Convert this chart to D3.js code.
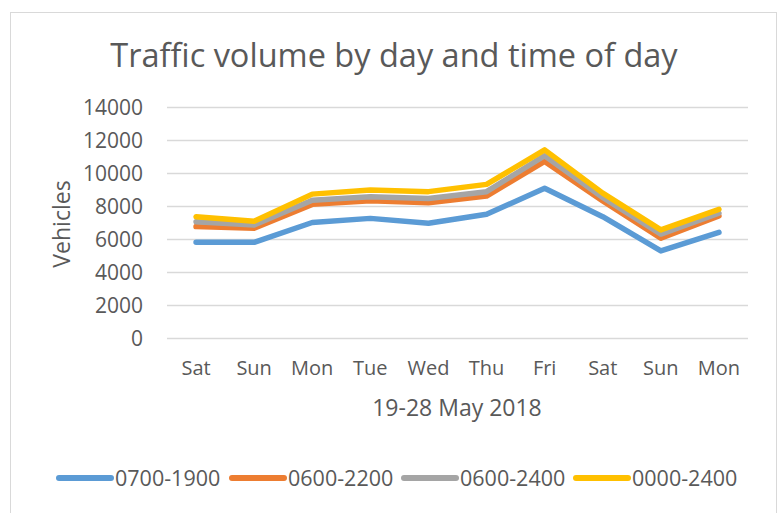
<!DOCTYPE html>
<html>
<head>
<meta charset="utf-8">
<script src="https://cdn.jsdelivr.net/npm/d3@7"></script>
<style>
  body { margin: 0; background: #fff; }
  svg { display: block; font-family: "Open Sans", sans-serif; }
</style>
</head>
<body>
<svg width="779" height="513"></svg>
<script>
const days = ["Sat", "Sun", "Mon", "Tue", "Wed", "Thu", "Fri", "Sat", "Sun", "Mon"];
const yTicks = [0, 2000, 4000, 6000, 8000, 10000, 12000, 14000];

const s0700_1900 = [5800, 5800, 7000, 7250, 6950, 7500, 9070, 7350, 5280, 6400];
const s0600_2200 = [6750, 6650, 8100, 8320, 8200, 8600, 10700, 8300, 6050, 7400];
const s0600_2400 = [7050, 6850, 8350, 8560, 8460, 8870, 11050, 8520, 6300, 7560];
const s0000_2400 = [7350, 7080, 8720, 8970, 8870, 9310, 11400, 8780, 6550, 7800];

const seriesNames = ["0700-1900", "0600-2200", "0600-2400", "0000-2400"];
const seriesColors = ["#5b9bd5", "#ed7d31", "#a5a5a5", "#ffc000"];
const seriesValues = [s0700_1900, s0600_2200, s0600_2400, s0000_2400];

const svg = d3.select("svg");
const textColor = "#595959";

// chart frame
svg.append("rect")
  .attr("x", 10.5).attr("y", 12.5)
  .attr("width", 766).attr("height", 520)
  .attr("fill", "#fff")
  .attr("stroke", "#d9d9d9");

const plotLeft = 167, plotRight = 748, plotTop = 107, plotBottom = 338;

const x = d3.scalePoint()
  .domain(d3.range(days.length))
  .range([plotLeft, plotRight])
  .padding(0.5);

const y = d3.scaleLinear()
  .domain([0, 14000])
  .range([plotBottom, plotTop]);

// gridlines
svg.append("g")
  .selectAll("line")
  .data(yTicks)
  .enter()
  .append("line")
  .attr("x1", plotLeft).attr("x2", plotRight)
  .attr("y1", d => Math.round(y(d)) + 0.5)
  .attr("y2", d => Math.round(y(d)) + 0.5)
  .attr("stroke", "#d9d9d9")
  .attr("stroke-width", 1.3);

// y tick labels
svg.append("g")
  .selectAll("text")
  .data(yTicks)
  .enter()
  .append("text")
  .attr("x", 143)
  .attr("y", d => y(d))
  .attr("dy", "0.36em")
  .attr("text-anchor", "end")
  .attr("fill", textColor)
  .style("font-size", "21px")
  .text(d => d);

// x tick labels
svg.append("g")
  .selectAll("text")
  .data(days)
  .enter()
  .append("text")
  .attr("x", (d, i) => x(i))
  .attr("y", 368)
  .attr("dy", "0.36em")
  .attr("text-anchor", "middle")
  .attr("fill", textColor)
  .style("font-size", "20px")
  .text(d => d);

// lines
const line = d3.line()
  .x((d, i) => x(i))
  .y(d => y(d));

svg.append("g")
  .selectAll("path")
  .data(seriesValues)
  .enter()
  .append("path")
  .attr("d", d => line(d))
  .attr("fill", "none")
  .attr("stroke", (d, i) => seriesColors[i])
  .attr("stroke-width", 5.5)
  .attr("stroke-linejoin", "round")
  .attr("stroke-linecap", "round");

// title
svg.append("text")
  .attr("x", 394)
  .attr("y", 67)
  .attr("text-anchor", "middle")
  .attr("fill", textColor)
  .style("font-size", "32.5px")
  .text("Traffic volume by day and time of day");

// axis titles
svg.append("text")
  .attr("x", 457)
  .attr("y", 408)
  .attr("dy", "0.36em")
  .attr("text-anchor", "middle")
  .attr("fill", textColor)
  .style("font-size", "23px")
  .text("19-28 May 2018");

svg.append("text")
  .attr("transform", "translate(62,224) rotate(-90)")
  .attr("dy", "0.36em")
  .attr("text-anchor", "middle")
  .attr("fill", textColor)
  .style("font-size", "23px")
  .text("Vehicles");

// legend
const legendX = [57, 230, 402, 574];
const legend = svg.append("g")
  .selectAll("g")
  .data(seriesNames)
  .enter()
  .append("g")
  .attr("transform", (d, i) => "translate(" + legendX[i] + ",478)");

legend.append("line")
  .attr("x1", 2).attr("x2", 54)
  .attr("stroke", (d, i) => seriesColors[i])
  .attr("stroke-width", 6)
  .attr("stroke-linecap", "round");

legend.append("text")
  .attr("x", 58)
  .attr("dy", "0.36em")
  .attr("fill", textColor)
  .style("font-size", "21.5px")
  .text(d => d);
</script>
</body>
</html>
